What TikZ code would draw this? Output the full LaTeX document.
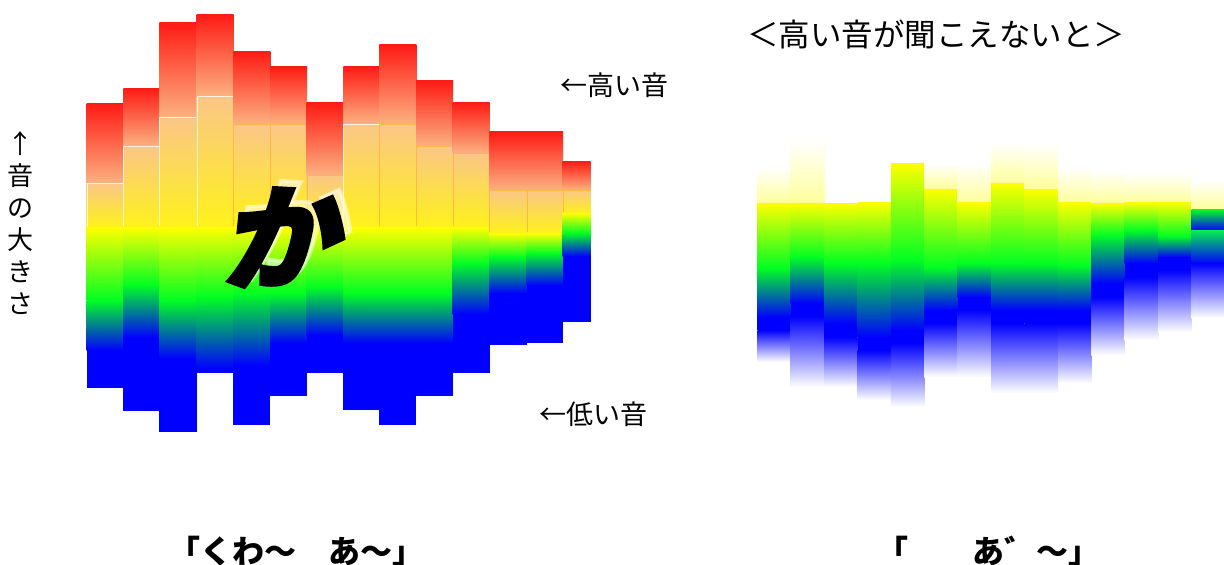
\documentclass[tikz,border=0pt]{standalone}
\usepackage{fontspec}
\newfontfamily\jp{Noto Sans CJK JP}
\newfontfamily\kafont{Noto Sans CJK JP}[FakeBold=3]
\definecolor{cred}{HTML}{FF1A14}
\definecolor{corange}{HTML}{FF8A55}
\definecolor{cpeachtop}{HTML}{FBB280}
\definecolor{cpeach}{HTML}{FAC687}
\definecolor{cly}{HTML}{FFF21A}
\definecolor{cyel}{HTML}{FFFF00}
\definecolor{cgreen}{HTML}{00FF22}
\definecolor{cteal}{HTML}{0CCFB5}
\definecolor{cblue}{HTML}{0000FF}
\definecolor{rfade}{HTML}{FFFF9A}
\definecolor{cedge}{HTML}{FFB23A}
\tikzset{
  lbl/.style={font=\jp\fontsize{27}{27}\selectfont, inner sep=0pt},
  title/.style={font=\jp\fontsize{31.5}{31.5}\selectfont, inner sep=0pt},
  caption/.style={font=\jp\bfseries\fontsize{32}{32}\selectfont, inner sep=0pt, anchor=base},
  kastyle/.style={font=\kafont\bfseries\fontsize{114}{114}\selectfont, inner sep=0pt, xslant=0.24, rotate=3}
}
\begin{document}
\begin{tikzpicture}[x=1pt,y=-1pt]
\useasboundingbox (0,0) rectangle (1224,565);
\fill[white] (0,0) rectangle (1224,565);
% left chart columns: x / w / top / peach / yellow / green / bluestart / bottom / edge colour
\foreach \x/\w/\t/\a/\y/\g/\b/\e/\ec in {
  86.7/36.9/103/183/227/300/350/388/white,
  123.3/36.3/88/146/227/285/337/411/white,
  159.3/37.7/22/117/227/300/358/432/white,
  196.7/36.9/14/96/227/297/368/373/white,
  233.3/37/51/124/227/293/365/425/cedge,
  270/37/66/124/227/293/343/396/cedge,
  306.7/36.9/102/175/227/287/335/373/cedge,
  343.3/36.3/66/124/227/293/343/410/white,
  379.3/37/44/124/227/293/343/425/cedge,
  416/37/80/146/227/293/343/396/cedge,
  452.7/36.9/102/153/227/263/314/373/cedge,
  489.3/37.7/131/190/233/257/293/345/cedge,
  526.7/36.3/131/190/233/253/285/343/cedge,
  562.7/28/161/190/213/233/256/322/cedge}
{
  \shade[top color=cred, middle color=corange, bottom color=cpeachtop] (\x,\t) rectangle (\x+\w,\a+0.4);
  \shade[top color=cpeach, bottom color=cly] (\x,\a) rectangle (\x+\w,\y+0.4);
  \shade[top color=cyel, bottom color=cgreen] (\x,\y) rectangle (\x+\w,\g+0.4);
  \shade[top color=cgreen, middle color=cteal, bottom color=cblue] (\x,\g) rectangle (\x+\w,\b+0.4);
  \fill[cblue] (\x,\b) rectangle (\x+\w,\e);
  \draw[\ec, line width=0.7pt, opacity=0.8] (\x+0.3,\y-1) -- (\x+0.3,\a) -- (\x+\w,\a);
}
% right chart columns: x / fadetop / yellow / green / bluestart / bandend / fadeend
\foreach \x/\f/\y/\g/\b/\c/\e in {
  757.3/167/203/268/317/330/362,
  790.7/140/203/257/303/316/387,
  824.1/202.5/203/263/323/337/387,
  857.5/201.5/202/263/337/350/400,
  890.9/162.5/163/260/330/343/407,
  924.3/163/189/267/310/323/377,
  957.7/163/202/263/297/310/377,
  991.1/143/183/263/310/323/393,
  1024.5/143/189/263/310/323/393,
  1057.9/167/202/265/310/323/383,
  1091.3/170/203/235/283/297/355,
  1124.7/173/202/230/263/277/340,
  1158.1/173/202/236/257/270/332}
{
  \shade[top color=white, bottom color=rfade] (\x,\f) rectangle (\x+33.6,\y+0.4);
  \shade[top color=cyel, bottom color=cgreen] (\x,\y) rectangle (\x+33.6,\g+0.4);
  \shade[top color=cgreen, middle color=cteal, bottom color=cblue] (\x,\g) rectangle (\x+33.6,\b+0.4);
  \fill[cblue] (\x,\b) rectangle (\x+33.6,\c+0.4);
  \shade[top color=cblue, middle color=cblue!45!white, bottom color=white] (\x,\c) rectangle (\x+33.6,\e);
}
% last right column
\shade[top color=white, bottom color=rfade] (1191.5,180) rectangle (1225,209.4);
\shade[top color=cgreen, middle color=cteal, bottom color=cblue] (1191.5,209) rectangle (1225,230.4);
\shade[top color=cgreen!70!cteal, middle color=cteal, bottom color=cblue] (1191.5,230) rectangle (1225,263.4);
\shade[top color=cblue, middle color=cblue!45!white, bottom color=white] (1191.5,263) rectangle (1225,318);
% big character
\node[kastyle, text=white, opacity=0.5] (kashadow) at (295,229) {か};
\node[kastyle, text=black] (ka) at (288,236) {か};
% labels
\node[lbl] (hi) at (614,85) {←高い音};
\node[lbl] (lo) at (593,414) {←低い音};
\node[lbl, align=center, font=\jp\fontsize{26}{32}\selectfont] (vert) at (20,223) {↑\\音\\の\\大\\き\\さ};
\node[title] (ttl) at (936,34) {＜高い音が聞こえないと＞};
\node[caption] (cap1) at (296,563) {「くわ～　あ～」};
\node[caption] (cap2) at (988,563) {「　　あ゛～」};
\end{tikzpicture}
\end{document}
